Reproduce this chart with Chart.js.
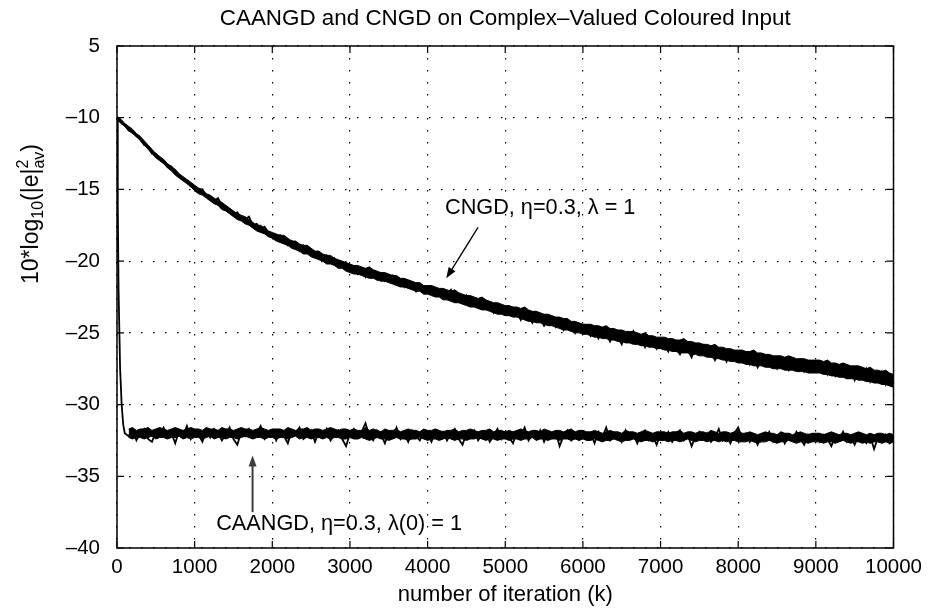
<!DOCTYPE html>
<html>
<head>
<meta charset="utf-8">
<script src="https://cdn.jsdelivr.net/npm/chart.js@4.4.0/dist/chart.umd.min.js"></script>
<style>
  html, body { margin: 0; padding: 0; background: #fff; }
</style>
</head>
<body>
<canvas id="myChart" width="929" height="608"></canvas>
<script>
const FONT = '"Liberation Sans", Arial, Helvetica, sans-serif';

const titleText = 'CAANGD and CNGD on Complex–Valued Coloured Input';
const xTitle = 'number of iteration (k)';

const xTicks = [0, 1000, 2000, 3000, 4000, 5000, 6000, 7000, 8000, 9000, 10000];
const yTicks = [-40, -35, -30, -25, -20, -15, -10, -5];
const yTickLabels = ['–40', '–35', '–30', '–25', '–20', '–15', '–10', '5'];

const step = 50;

// CNGD noisy trace, one value every 50 iterations (0 .. 10000)
const cngdVals = [
  -10.0, -10.3, -10.5, -10.9, -11.0, -11.3, -11.5, -11.9, -12.0, -12.5, -12.5, -12.9, -13.1, -13.4, -13.4, -13.9, -14.0, -14.3, -14.4, -14.8, -14.9,
  -15.2, -15.0, -15.5, -15.6, -15.8, -15.6, -16.1, -16.3, -16.4, -16.7, -16.6, -17.0, -17.1, -16.9, -17.5, -17.4, -17.8, -17.6, -18.0, -18.2,
  -18.5, -18.2, -18.6, -18.9, -18.6, -19.0, -19.3, -18.9, -19.2, -19.6, -19.4, -19.7, -19.9, -19.6, -20.1, -19.8, -20.4, -20.1, -20.3, -20.6,
  -20.4, -20.9, -20.7, -21.1, -20.5, -21.0, -21.3, -20.9, -21.4, -21.2, -21.0, -21.6, -21.3, -21.8, -21.4, -21.7, -22.1, -21.6, -21.9, -22.2,
  -21.8, -22.4, -22.1, -22.6, -22.3, -22.0, -22.8, -22.5, -22.9, -22.4, -23.1, -22.7, -22.9, -23.3, -22.8, -23.2, -23.6, -23.0, -23.4, -23.7,
  -23.2, -23.8, -23.5, -24.1, -23.6, -23.9, -24.3, -23.7, -24.0, -24.5, -24.1, -23.9, -24.6, -24.3, -24.8, -24.2, -24.5, -25.0, -24.4, -24.8,
  -24.5, -25.2, -24.8, -25.4, -24.9, -25.1, -25.6, -25.0, -25.3, -25.8, -25.1, -25.5, -24.9, -25.7, -25.4, -26.0, -25.3, -25.6, -26.1, -25.5,
  -25.9, -26.3, -25.6, -26.1, -26.5, -25.8, -26.2, -26.7, -26.0, -26.4, -25.9, -26.6, -26.3, -26.9, -26.2, -26.5, -27.0, -26.3, -26.7, -26.4,
  -26.9, -26.5, -27.2, -26.7, -27.4, -26.9, -26.6, -27.3, -27.0, -27.5, -26.8, -27.2, -27.6, -27.0, -27.4, -26.9, -27.7, -27.2, -27.5, -27.1,
  -27.6, -27.1, -27.9, -27.4, -28.0, -27.5, -27.2, -28.1, -27.7, -28.3, -27.6, -28.0, -27.5, -28.4, -27.9, -28.2, -27.7, -28.6, -28.0, -28.4
];
// dense core of the CNGD band: upper and lower edge, same iterations
const cngdUpper = [
  -9.9, -10.1, -10.4, -10.6, -10.8, -11.1, -11.3, -11.6, -11.9, -12.2, -12.5, -12.7, -12.9, -13.2, -13.4, -13.6, -13.9, -14.1, -14.3, -14.5, -14.7,
  -14.9, -15.0, -15.3, -15.4, -15.6, -15.8, -15.9, -16.1, -16.3, -16.5, -16.7, -16.8, -16.9, -17.1, -17.3, -17.5, -17.5, -17.7, -17.9, -18.0,
  -18.1, -18.2, -18.2, -18.4, -18.6, -18.6, -18.8, -18.9, -18.9, -19.1, -19.3, -19.3, -19.5, -19.6, -19.6, -19.8, -19.9, -20.0, -20.1, -20.2,
  -20.3, -20.3, -20.4, -20.5, -20.4, -20.6, -20.7, -20.8, -20.8, -20.9, -21.0, -21.0, -21.2, -21.2, -21.3, -21.4, -21.5, -21.5, -21.7, -21.7,
  -21.7, -21.8, -21.9, -21.9, -22.0, -22.1, -22.0, -22.2, -22.3, -22.4, -22.4, -22.5, -22.6, -22.5, -22.7, -22.8, -22.9, -22.9, -23.0, -23.1,
  -23.1, -23.2, -23.2, -23.3, -23.2, -23.4, -23.5, -23.5, -23.6, -23.7, -23.7, -23.8, -23.9, -23.9, -24.0, -24.0, -24.2, -24.2, -24.3, -24.4,
  -24.4, -24.4, -24.5, -24.5, -24.6, -24.5, -24.7, -24.7, -24.8, -24.8, -24.9, -24.9, -24.9, -25.0, -25.1, -25.0, -25.2, -25.2, -25.3, -25.3,
  -25.3, -25.4, -25.4, -25.5, -25.5, -25.4, -25.6, -25.6, -25.7, -25.7, -25.8, -25.8, -25.9, -25.8, -26.0, -26.0, -26.1, -26.1, -26.2, -26.2,
  -26.2, -26.3, -26.3, -26.2, -26.4, -26.4, -26.5, -26.5, -26.6, -26.6, -26.6, -26.7, -26.6, -26.7, -26.8, -26.8, -26.8, -26.9, -26.9, -26.9,
  -26.9, -27.0, -26.9, -27.1, -27.1, -27.2, -27.1, -27.2, -27.3, -27.3, -27.3, -27.4, -27.5, -27.4, -27.6, -27.6, -27.7, -27.6, -27.8, -27.9
];
const cngdLower = [
  -10.1, -10.4, -10.6, -10.9, -11.1, -11.3, -11.6, -11.9, -12.2, -12.5, -12.8, -13.0, -13.2, -13.5, -13.7, -14.0, -14.2, -14.4, -14.6, -14.8, -15.1,
  -15.3, -15.4, -15.6, -15.8, -16.0, -16.1, -16.4, -16.5, -16.7, -16.9, -17.1, -17.2, -17.4, -17.5, -17.7, -17.9, -18.0, -18.1, -18.3, -18.4,
  -18.6, -18.7, -18.8, -18.9, -19.1, -19.2, -19.3, -19.5, -19.5, -19.7, -19.8, -19.9, -20.0, -20.2, -20.2, -20.3, -20.5, -20.5, -20.7, -20.8,
  -20.9, -20.9, -21.0, -21.1, -21.2, -21.2, -21.3, -21.4, -21.4, -21.5, -21.6, -21.7, -21.8, -21.8, -21.9, -22.0, -22.1, -22.1, -22.3, -22.3,
  -22.4, -22.5, -22.5, -22.7, -22.7, -22.8, -22.9, -22.9, -23.0, -23.1, -23.2, -23.2, -23.3, -23.4, -23.4, -23.5, -23.6, -23.7, -23.7, -23.8,
  -23.8, -23.9, -23.9, -24.0, -24.1, -24.2, -24.2, -24.3, -24.3, -24.4, -24.5, -24.5, -24.6, -24.7, -24.8, -24.8, -24.9, -25.0, -25.0, -25.1,
  -25.1, -25.2, -25.3, -25.3, -25.4, -25.4, -25.5, -25.5, -25.6, -25.6, -25.7, -25.7, -25.8, -25.8, -25.9, -25.9, -26.0, -26.0, -26.1, -26.1,
  -26.2, -26.2, -26.3, -26.3, -26.4, -26.4, -26.4, -26.5, -26.5, -26.6, -26.6, -26.7, -26.7, -26.8, -26.8, -26.9, -26.9, -27.0, -27.0, -27.1,
  -27.1, -27.2, -27.2, -27.3, -27.3, -27.3, -27.4, -27.4, -27.5, -27.5, -27.5, -27.6, -27.6, -27.6, -27.7, -27.7, -27.7, -27.8, -27.8, -27.8,
  -27.8, -27.9, -27.9, -28.0, -28.0, -28.1, -28.1, -28.2, -28.2, -28.2, -28.3, -28.3, -28.4, -28.4, -28.5, -28.5, -28.6, -28.6, -28.7, -28.8
];

// CAANGD: fast initial drop, then one value every 50 iterations from 150 on
const caangdHeadIter = [0, 10, 20, 40, 60, 80, 100];
const caangdHeadVals = [-10.0, -16.0, -22.0, -27.5, -30.0, -31.4, -32.0];
const caangdTailStart = 150;
const caangdTailVals = [
  -32.2, -31.8, -32.5, -32.0, -31.7, -32.4, -32.6, -31.9, -32.1, -31.6, -32.3, -32.0, -32.7, -31.8, -32.2, -31.5, -32.4, -31.9,
  -32.1, -32.6, -31.8, -32.3, -31.7, -31.9, -32.5, -32.1, -31.6, -32.4, -32.8, -31.9, -32.2, -31.7, -32.3, -32.0, -31.5, -32.4, -32.1, -31.8,
  -32.5, -31.9, -32.2, -32.7, -31.8, -32.0, -31.6, -32.4, -32.2, -31.8, -32.6, -31.9, -32.3, -31.7, -32.5, -32.1, -31.8, -32.4, -32.9, -32.0,
  -31.7, -32.3, -31.9, -31.3, -32.2, -32.5, -31.8, -32.1, -32.7, -31.9, -32.3, -31.6, -32.4, -32.0, -32.6, -31.8, -32.2, -32.5, -31.9, -32.1,
  -32.6, -31.8, -32.2, -31.9, -32.5, -32.0, -31.7, -32.4, -32.8, -32.0, -32.2, -31.8, -32.5, -32.1, -31.9, -32.6, -32.2, -31.7, -32.4, -32.0,
  -32.3, -32.7, -31.9, -32.2, -31.6, -32.5, -32.1, -32.4, -31.8, -32.6, -32.0, -32.3, -31.9, -32.9, -32.2, -31.8, -32.5, -32.1, -32.4, -31.9,
  -32.4, -32.0, -32.7, -31.9, -32.3, -31.6, -32.5, -32.2, -32.0, -32.6, -31.8, -32.4, -32.1, -32.7, -32.0, -31.8, -32.5, -32.2, -32.8, -32.0,
  -32.3, -31.9, -32.6, -32.2, -31.8, -32.5, -32.1, -32.9, -32.2, -31.9, -32.4, -32.0, -32.6, -32.3, -31.7, -32.5, -32.2, -32.7, -32.0, -31.6,
  -32.4, -32.0, -32.6, -32.2, -32.8, -32.1, -32.4, -31.9, -32.6, -32.3, -32.0, -32.7, -32.2, -32.5, -31.9, -32.4, -32.8, -32.1, -32.5, -32.2,
  -32.6, -32.1, -32.4, -32.9, -32.2, -32.5, -31.9, -32.6, -32.3, -32.8, -32.1, -32.4, -32.7, -32.2, -33.1, -32.3, -32.6, -32.1, -32.7, -32.5
];
// dense core of the CAANGD band (150 .. 10000)
const caangdUpper = [
  -31.7, -31.6, -31.8, -31.7, -31.7, -31.6, -31.8, -31.7, -31.6, -31.7, -31.8, -31.7, -31.6, -31.7, -31.8, -31.7, -31.6, -31.7,
  -31.7, -31.8, -31.6, -31.7, -31.7, -31.8, -31.6, -31.7, -31.7, -31.8, -31.7, -31.6, -31.7, -31.7, -31.8, -31.7, -31.6, -31.7, -31.8, -31.7,
  -31.7, -31.7, -31.8, -31.6, -31.7, -31.8, -31.7, -31.7, -31.6, -31.8, -31.7, -31.7, -31.8, -31.7, -31.6, -31.7, -31.8, -31.7, -31.7, -31.8,
  -31.7, -31.8, -31.8, -31.6, -31.8, -31.7, -31.8, -31.9, -31.7, -31.8, -31.8, -31.7, -31.9, -31.8, -31.7, -31.8, -31.8, -31.9, -31.7, -31.8,
  -31.8, -31.7, -31.8, -31.9, -31.8, -31.8, -31.7, -31.9, -31.8, -31.8, -31.7, -31.8, -31.9, -31.8, -31.8, -31.7, -31.9, -31.8, -31.8, -31.9,
  -31.8, -31.9, -31.8, -31.7, -31.8, -31.9, -31.8, -31.8, -31.9, -31.7, -31.8, -31.9, -31.8, -31.8, -31.9, -31.8, -31.7, -31.9, -31.8, -31.8,
  -31.9, -31.9, -31.8, -31.9, -32.0, -31.9, -31.8, -31.9, -31.9, -32.0, -31.8, -31.9, -31.9, -32.0, -31.9, -31.8, -31.9, -32.0, -31.9, -31.9,
  -31.9, -32.0, -31.9, -31.9, -31.8, -32.0, -31.9, -31.9, -32.0, -31.9, -31.9, -32.0, -31.8, -31.9, -32.0, -31.9, -31.9, -32.0, -31.9, -31.8,
  -32.0, -32.0, -31.9, -32.0, -32.1, -32.0, -31.9, -32.0, -32.0, -32.1, -31.9, -32.0, -32.0, -32.1, -32.0, -31.9, -32.0, -32.1, -32.0, -32.0,
  -32.0, -32.1, -32.0, -31.9, -32.0, -32.1, -32.0, -32.0, -32.1, -32.0, -31.9, -32.0, -32.1, -32.0, -32.1, -32.0, -32.0, -32.1, -32.0, -32.1
];
const caangdLower = [
  -32.3, -32.4, -32.3, -32.3, -32.4, -32.3, -32.2, -32.4, -32.3, -32.3, -32.4, -32.3, -32.3, -32.2, -32.4, -32.3, -32.4, -32.3,
  -32.3, -32.4, -32.3, -32.2, -32.4, -32.3, -32.3, -32.4, -32.3, -32.3, -32.4, -32.3, -32.2, -32.3, -32.4, -32.3, -32.3, -32.4, -32.3, -32.3,
  -32.4, -32.3, -32.3, -32.4, -32.3, -32.2, -32.4, -32.3, -32.3, -32.4, -32.3, -32.3, -32.4, -32.3, -32.4, -32.3, -32.3, -32.4, -32.4, -32.3,
  -32.4, -32.4, -32.3, -32.4, -32.5, -32.4, -32.3, -32.4, -32.4, -32.5, -32.4, -32.3, -32.4, -32.4, -32.5, -32.4, -32.4, -32.3, -32.4, -32.5,
  -32.4, -32.4, -32.5, -32.4, -32.3, -32.4, -32.5, -32.4, -32.4, -32.5, -32.4, -32.4, -32.3, -32.4, -32.5, -32.4, -32.4, -32.5, -32.4, -32.4,
  -32.5, -32.4, -32.4, -32.5, -32.4, -32.4, -32.3, -32.5, -32.4, -32.4, -32.5, -32.4, -32.4, -32.5, -32.4, -32.4, -32.5, -32.4, -32.5, -32.4,
  -32.5, -32.5, -32.4, -32.5, -32.6, -32.5, -32.5, -32.4, -32.5, -32.6, -32.5, -32.5, -32.4, -32.5, -32.6, -32.5, -32.5, -32.6, -32.5, -32.5,
  -32.5, -32.6, -32.5, -32.5, -32.6, -32.5, -32.4, -32.5, -32.6, -32.5, -32.5, -32.6, -32.5, -32.5, -32.6, -32.5, -32.6, -32.5, -32.5, -32.6,
  -32.6, -32.6, -32.5, -32.6, -32.7, -32.6, -32.6, -32.5, -32.6, -32.7, -32.6, -32.6, -32.5, -32.6, -32.7, -32.6, -32.6, -32.7, -32.6, -32.6,
  -32.6, -32.7, -32.6, -32.6, -32.7, -32.6, -32.5, -32.6, -32.7, -32.6, -32.6, -32.7, -32.6, -32.7, -32.6, -32.6, -32.7, -32.6, -32.7, -32.6
];

// text labels with arrows, anchored in data units
const notes = [
  { text: 'CNGD, η=0.3, λ = 1', at: [5450, -16.3], from: [4650, -17.65], to: [4240, -21.2], color: '#000', width: 1.3 },
  { text: 'CAANGD, η=0.3, λ(0) = 1', at: [2860, -38.3], from: [1746, -37.5], to: [1746, -33.55], color: '#3c3c3c', width: 2 }
];

const fromZero = vals => vals.map((v, i) => ({ x: i * step, y: v }));
const fromTail = vals => vals.map((v, i) => ({ x: caangdTailStart + i * step, y: v }));
const caangdData = caangdHeadIter.map((it, i) => ({ x: it, y: caangdHeadVals[i] })).concat(fromTail(caangdTailVals));

function arrow(ctx, x1, y1, x2, y2, color, width) {
  const ang = Math.atan2(y2 - y1, x2 - x1);
  const len = 11, half = 4;
  ctx.strokeStyle = color;
  ctx.fillStyle = color;
  ctx.lineWidth = width;
  ctx.beginPath();
  ctx.moveTo(x1, y1);
  ctx.lineTo(x2 - Math.cos(ang) * len * 0.8, y2 - Math.sin(ang) * len * 0.8);
  ctx.stroke();
  ctx.beginPath();
  ctx.moveTo(x2, y2);
  ctx.lineTo(x2 - Math.cos(ang) * len - Math.sin(ang) * half, y2 - Math.sin(ang) * len + Math.cos(ang) * half);
  ctx.lineTo(x2 - Math.cos(ang) * len + Math.sin(ang) * half, y2 - Math.sin(ang) * len - Math.cos(ang) * half);
  ctx.closePath();
  ctx.fill();
}

function drawYLabel(ctx, cx, cy) {
  const big = '23px ' + FONT, small = '16px ' + FONT;
  const parts = [
    { t: '10*log', f: big, dy: 0 },
    { t: '10', f: small, dy: 5 },
    { t: '(|e|', f: big, dy: 0 },
    { t: '2', f: small, dy: -10, under: 'av' },
    { t: ')', f: big, dy: 0 }
  ];
  let total = 0;
  parts.forEach(p => {
    ctx.font = p.f;
    let w = ctx.measureText(p.t).width;
    if (p.under) w = Math.max(w, ctx.measureText(p.under).width);
    p.w = w;
    total += w;
  });
  ctx.save();
  ctx.translate(cx, cy);
  ctx.rotate(-Math.PI / 2);
  ctx.fillStyle = '#000';
  ctx.textAlign = 'left';
  ctx.textBaseline = 'alphabetic';
  let px = -total / 2;
  parts.forEach(p => {
    ctx.font = p.f;
    ctx.fillText(p.t, px, 8 + p.dy);
    if (p.under) ctx.fillText(p.under, px, 8 + 6);
    px += p.w;
  });
  ctx.restore();
}

const decor = {
  id: 'decor',
  afterDatasetsDraw(chart) {
    const { ctx, chartArea: a, scales: { x, y } } = chart;
    ctx.save();
    ctx.strokeStyle = '#000';
    ctx.lineWidth = 1.5;
    ctx.strokeRect(a.left, a.top, a.right - a.left, a.bottom - a.top);

    ctx.lineWidth = 1.2;
    ctx.beginPath();
    xTicks.forEach(v => {
      const px = x.getPixelForValue(v);
      ctx.moveTo(px, a.bottom); ctx.lineTo(px, a.bottom - 7);
      ctx.moveTo(px, a.top); ctx.lineTo(px, a.top + 7);
    });
    yTicks.forEach(v => {
      const py = y.getPixelForValue(v);
      ctx.moveTo(a.left, py); ctx.lineTo(a.left + 7, py);
      ctx.moveTo(a.right, py); ctx.lineTo(a.right - 7, py);
    });
    ctx.stroke();

    ctx.fillStyle = '#000';
    ctx.textAlign = 'center';
    ctx.textBaseline = 'middle';
    ctx.font = '22.4px ' + FONT;
    ctx.fillText(titleText, (a.left + a.right) / 2, 19);
    ctx.font = '22px ' + FONT;
    ctx.fillText(xTitle, (a.left + a.right) / 2, 595);

    notes.forEach(n => {
      ctx.font = '21.7px ' + FONT;
      ctx.fillStyle = '#000';
      ctx.textAlign = 'center';
      ctx.textBaseline = 'middle';
      ctx.fillText(n.text, x.getPixelForValue(n.at[0]), y.getPixelForValue(n.at[1]));
      arrow(ctx, x.getPixelForValue(n.from[0]), y.getPixelForValue(n.from[1]),
        x.getPixelForValue(n.to[0]), y.getPixelForValue(n.to[1]), n.color, n.width);
    });

    drawYLabel(ctx, 30, 214);
    ctx.restore();
  }
};

const band = { borderColor: '#000', backgroundColor: '#000', borderWidth: 1, pointRadius: 0, tension: 0 };

const ctx = document.getElementById('myChart').getContext('2d');
new Chart(ctx, {
  type: 'line',
  data: {
    datasets: [
      { ...band, label: 'CNGD upper', data: fromZero(cngdUpper), fill: false },
      { ...band, label: 'CNGD lower', data: fromZero(cngdLower), fill: '-1' },
      { label: 'CNGD', data: fromZero(cngdVals), borderColor: '#000', borderWidth: 1.8, pointRadius: 0, tension: 0, fill: false },
      { ...band, label: 'CAANGD upper', data: fromTail(caangdUpper), fill: false },
      { ...band, label: 'CAANGD lower', data: fromTail(caangdLower), fill: '-1' },
      { label: 'CAANGD', data: caangdData, borderColor: '#000', borderWidth: 1.8, pointRadius: 0, tension: 0, fill: false }
    ]
  },
  options: {
    responsive: false,
    animation: false,
    devicePixelRatio: 1,
    layout: { padding: { top: 46, right: 33, left: 0, bottom: 0 } },
    plugins: { legend: { display: false }, title: { display: false }, tooltip: { enabled: false } },
    scales: {
      x: {
        type: 'linear',
        min: 0,
        max: 10000,
        afterBuildTicks: s => { s.ticks = xTicks.map(v => ({ value: v })); },
        afterFit: s => { s.height = 60; },
        ticks: {
          color: '#000',
          font: { family: FONT, size: 20.5 },
          maxRotation: 0,
          autoSkip: false,
          padding: 7,
          callback: v => String(v)
        },
        grid: { color: '#000', lineWidth: 1.2, drawTicks: false },
        border: { display: false, dash: [1.5, 10.5] }
      },
      y: {
        type: 'linear',
        min: -40,
        max: -5,
        afterBuildTicks: s => { s.ticks = yTicks.map(v => ({ value: v })); },
        afterFit: s => { s.width = 117; },
        ticks: {
          color: '#000',
          font: { family: FONT, size: 20.5 },
          padding: 17,
          callback: v => yTickLabels[yTicks.indexOf(v)]
        },
        grid: { color: '#000', lineWidth: 1.2, drawTicks: false },
        border: { display: false, dash: [1.5, 10.5] }
      }
    }
  },
  plugins: [decor]
});
</script>
</body>
</html>
